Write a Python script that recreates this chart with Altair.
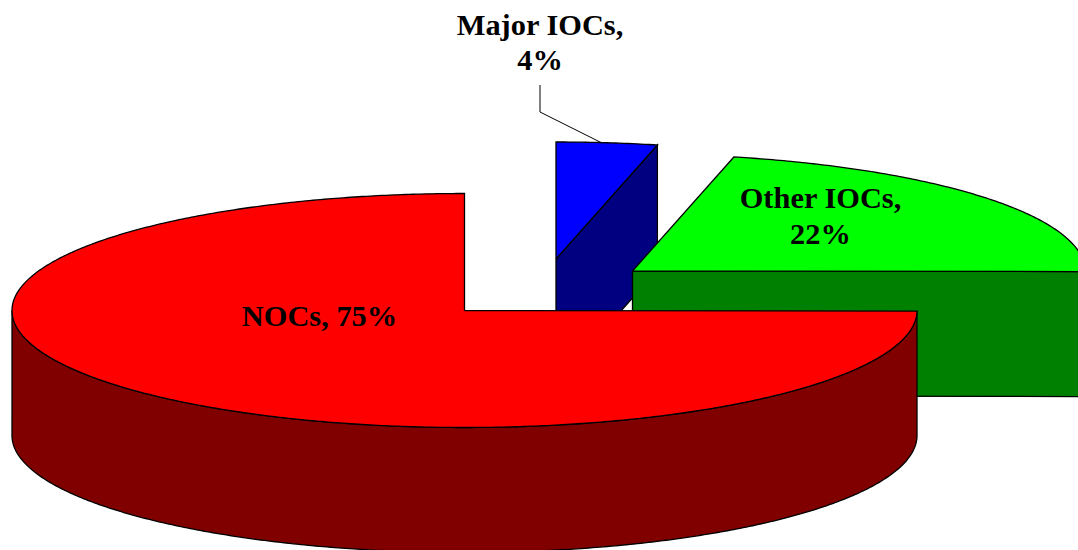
import numpy as np
import pandas as pd
import altair as alt

# Slice data, clockwise from 12 o'clock
names = ["Major IOCs", "Other IOCs", "NOCs"]
shares = [3.6, 21.5, 75.0]
top_colors = ["#0000FF", "#00FF00", "#FF0000"]
side_colors = ["#000080", "#008000", "#800000"]

# Pie centre of each exploded slice and the shared ellipse geometry
center_x = [556, 632.5, 464.5]
center_y = [259, 271, 310.5]
RX, RY, DEPTH = 452.5, 117, 125
W, H = 1078, 550

# Label placement: lines of text and their anchors
label_lines = [[f"{names[0]},", f"{round(shares[0])}%"],
               [f"{names[1]},", f"{round(shares[1])}%"],
               [f"{names[2]}, {round(shares[2])}%"]]
label_x = [540, 820.5, 319.5]
label_y = [[25.5, 60.5], [198.5, 234.5], [316.5]]
leader_x = [540, 540, 602]
leader_y = [85, 112, 143]

x_scale = alt.Scale(domain=[0, W], range=[0, W])
y_scale = alt.Scale(domain=[0, H], range=[0, H])


def rim(i, a, b, drop=0.0):
    """Points along the rim of slice i between two clockwise angles."""
    t = np.radians(np.linspace(a, b, max(int(abs(b - a) * 2), 2)))
    return (center_x[i] + RX * np.sin(t),
            center_y[i] - RY * np.cos(t) + drop)


def face(px, py, color):
    """One closed, filled outline drawn in point order."""
    px, py = list(px) + [px[0]], list(py) + [py[0]]
    frame = pd.DataFrame({"x": px, "y": py, "n": range(len(px))})
    return (
        alt.Chart(frame)
        .mark_line(fill=color, stroke="black", strokeWidth=1.3, clip=True,
                   strokeJoin="miter")
        .encode(
            x=alt.X("x:Q", scale=x_scale, axis=None),
            y=alt.Y("y:Q", scale=y_scale, axis=None),
            order="n:Q",
        )
    )


edges = np.cumsum([0] + shares) / sum(shares) * 360
layers = []

for i in range(len(shares)):
    start, end = edges[i], edges[i + 1]
    cx, cy = center_x[i], center_y[i]

    # Cut face at the clockwise end of the slice, when it faces the viewer
    if end < 180:
        ex, ey = rim(i, end, end)
        layers.append(face([cx, ex[0], ex[0], cx],
                           [cy, ey[0], ey[0] + DEPTH, cy + DEPTH],
                           side_colors[i]))

    # Curved outer wall over the front half of the ellipse
    a, b = max(start, 90), min(end, 270)
    if a < b:
        ux, uy = rim(i, a, b)
        lx, ly = rim(i, a, b, DEPTH)
        layers.append(face(np.r_[ux, lx[::-1]], np.r_[uy, ly[::-1]],
                           side_colors[i]))

    # Top surface
    ox, oy = rim(i, start, end)
    layers.append(face(np.r_[cx, ox], np.r_[cy, oy], top_colors[i]))

# Leader line from the small slice to its label
leader = pd.DataFrame({"x": leader_x, "y": leader_y, "n": range(3)})
layers.append(
    alt.Chart(leader)
    .mark_line(color="black", strokeWidth=1)
    .encode(x=alt.X("x:Q", scale=x_scale, axis=None),
            y=alt.Y("y:Q", scale=y_scale, axis=None),
            order="n:Q")
)

# Slice labels
rows = [{"x": label_x[i], "y": yy, "t": tt}
        for i in range(len(names))
        for tt, yy in zip(label_lines[i], label_y[i])]
layers.append(
    alt.Chart(pd.DataFrame(rows))
    .mark_text(font="Liberation Serif", fontWeight="bold", fontSize=30.4,
               color="black", align="center", baseline="middle")
    .encode(x=alt.X("x:Q", scale=x_scale, axis=None),
            y=alt.Y("y:Q", scale=y_scale, axis=None),
            text="t:N")
)

chart = (
    alt.layer(*layers)
    .properties(width=W, height=H, padding=0,
                autosize=alt.AutoSizeParams(type="none"),
                background="white")
    .configure_view(stroke=None)
)

chart.save("out.html", embed_options={"renderer": "svg", "actions": False})
